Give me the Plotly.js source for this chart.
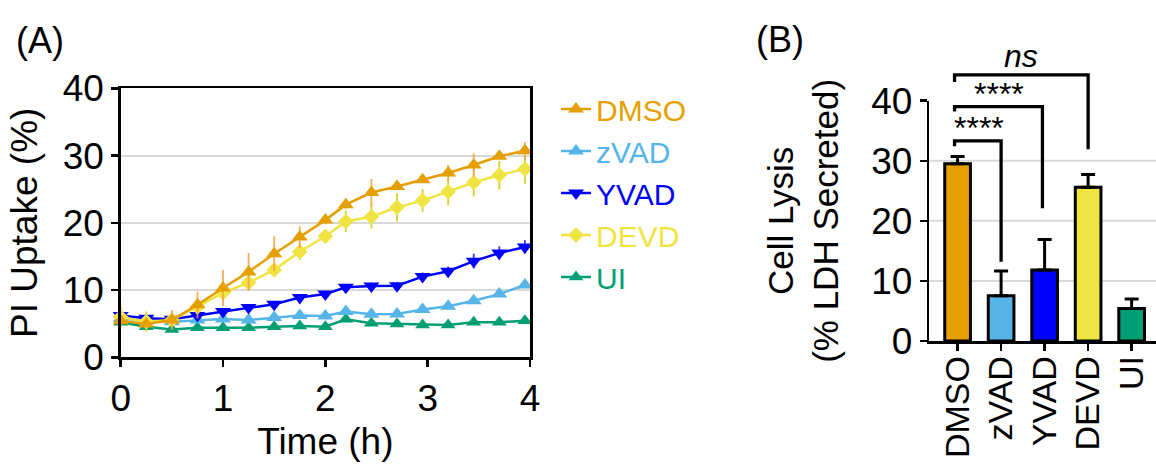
<!DOCTYPE html>
<html><head><meta charset="utf-8">
<script src="https://cdn.plot.ly/plotly-3.0.1.min.js"></script>
<style>html,body{margin:0;padding:0;background:#fff}#chart{width:1156px;height:464px}</style>
</head><body><div id="chart"></div>
<script>
// ---------- Data: panel A (PI uptake time course) ----------
const times = [0, 0.25, 0.5, 0.75, 1, 1.25, 1.5, 1.75, 2, 2.2, 2.45, 2.7, 2.95, 3.2, 3.45, 3.7, 3.95];
const seriesNames = ['DMSO', 'zVAD', 'YVAD', 'DEVD', 'UI'];
const dmsoPI  = [5.45, 4.96, 5.55, 7.8, 10.3, 12.7, 15.4, 17.9, 20.4, 22.7, 24.5, 25.4, 26.4, 27.4, 28.6, 29.9, 30.7];
const dmsoErr = [0.5, 0.4, 1.5, 2.0, 2.7, 2.8, 2.6, 1.6, 0.6, 0.6, 2.0, 0.4, 0.5, 1.2, 1.7, 0.4, 1.3];
const zvadPI  = [5.8, 5.45, 5.3, 5.55, 5.7, 5.55, 5.9, 6.2, 6.15, 6.8, 6.4, 6.45, 7.1, 7.6, 8.4, 9.4, 10.75];
const zvadErr = [0.3, 0.3, 0.3, 0.3, 0.3, 0.3, 0.3, 0.3, 0.3, 0.3, 0.3, 0.3, 0.3, 0.3, 0.3, 0.3, 0.4];
const yvadPI  = [6.2, 5.8, 5.65, 6.2, 6.8, 7.4, 7.9, 8.9, 9.4, 10.4, 10.6, 10.65, 12.0, 12.8, 14.3, 15.5, 16.4];
const yvadErr = [0.4, 0.4, 0.4, 0.5, 0.4, 0.4, 0.4, 0.5, 0.4, 0.5, 0.5, 0.5, 0.6, 0.7, 1.1, 1.0, 1.0];
const devdPI  = [6.0, 5.3, 5.55, 7.5, 9.6, 11.1, 13.0, 15.7, 18.0, 20.2, 20.9, 22.3, 23.3, 24.6, 26.0, 27.1, 28.0];
const devdErr = [1.5, 1.5, 1.0, 0.5, 0.5, 1.0, 0.5, 1.2, 0.8, 1.6, 1.8, 2.1, 1.7, 2.0, 2.1, 2.1, 2.2];
const uiPI    = [5.2, 4.55, 4.15, 4.4, 4.4, 4.4, 4.55, 4.65, 4.55, 5.65, 5.05, 4.95, 4.8, 4.8, 5.2, 5.2, 5.45];
const uiErr   = [0.3, 0.3, 0.3, 0.3, 0.3, 0.3, 0.3, 0.3, 0.3, 0.3, 0.3, 0.3, 0.3, 0.3, 0.3, 0.3, 0.3];
const timeTicks = [0, 1, 2, 3, 4];
const piTicks = [0, 10, 20, 30, 40];

// ---------- Data: panel B (LDH release) ----------
const groups = ['DMSO', 'zVAD', 'YVAD', 'DEVD', 'UI'];
const lysis = [29.5, 7.55, 11.8, 25.6, 5.4];
const lysisErr = [1.2, 4.1, 5.1, 2.1, 1.6];
const lysisTicks = [0, 10, 20, 30, 40];
// significance comparisons
const compFrom   = [0, 0, 0];
const compTo     = [1, 1.95, 3];
const compY      = [33.3, 39.0, 44.3];
const compLeftY  = [32.4, 38.2, 43.1];
const compRightY = [13.2, 22.1, 31.9];
const compLabel  = ['****', '****', 'ns'];

// ---------- Styles ----------
const colors = {DMSO: '#E69F00', zVAD: '#56B4E9', YVAD: '#0000FF', DEVD: '#F0E442', UI: '#009E73'};
const errColors = {DMSO: 'rgba(245,160,60,0.85)', zVAD: 'rgba(86,180,233,0.8)', YVAD: 'rgba(0,0,255,0.8)', DEVD: 'rgba(215,200,20,0.9)', UI: 'rgba(0,158,115,0.8)'};
const symbols = {DMSO: 'triangle-up', zVAD: 'triangle-up', YVAD: 'triangle-down', DEVD: 'diamond', UI: 'triangle-up'};
const sizes = {DMSO: 14, zVAD: 14, YVAD: 14, DEVD: 12, UI: 13};
const FONT = 'Liberation Sans, Arial, Helvetica, sans-serif';
const W = 1156, H = 464;

const seriesY = {DMSO: dmsoPI, zVAD: zvadPI, YVAD: yvadPI, DEVD: devdPI, UI: uiPI};
const seriesE = {DMSO: dmsoErr, zVAD: zvadErr, YVAD: yvadErr, DEVD: devdErr, UI: uiErr};
const drawOrder = ['UI', 'zVAD', 'YVAD', 'DEVD', 'DMSO'];

const traces = [];
drawOrder.forEach(name => {
  traces.push({
    type: 'scatter', mode: 'lines+markers', xaxis: 'x', yaxis: 'y',
    x: times, y: seriesY[name],
    name: '<span style="color:' + colors[name] + '">' + name + '</span>',
    legendrank: seriesNames.indexOf(name) + 1,
    line: {color: colors[name], width: 2.5},
    marker: {symbol: symbols[name], size: sizes[name], color: colors[name]},
    error_y: {type: 'data', array: seriesE[name], color: errColors[name], thickness: 1.8, width: 0},
    cliponaxis: false
  });
});

const barX = groups.map((g, i) => i);
traces.push({
  type: 'bar', xaxis: 'x2', yaxis: 'y2', x: barX, y: lysis, width: 0.59,
  marker: {color: groups.map(g => colors[g]), line: {color: '#000', width: 3}},
  error_y: {type: 'data', symmetric: false, array: lysisErr, arrayminus: lysis.map(() => 0), color: '#000', thickness: 3, width: 7},
  showlegend: false, hoverinfo: 'x+y'
});

const annotations = [];
for (let i = 0; i < compFrom.length; i++) {
  const xl = compFrom[i] - 0.07, xr = compTo[i];
  traces.push({
    type: 'scatter', mode: 'lines', xaxis: 'x2', yaxis: 'y3',
    x: [xl, xl, xr, xr], y: [compLeftY[i], compY[i], compY[i], compRightY[i]],
    line: {color: '#000', width: 3.3}, showlegend: false, hoverinfo: 'skip'
  });
  const isNs = compLabel[i] === 'ns';
  annotations.push({
    xref: 'x2', yref: 'y3', x: (xl + xr) / 2 + (isNs ? 0 : 0.02), y: compY[i],
    text: isNs ? '<i>ns</i>' : compLabel[i], showarrow: false,
    xanchor: 'center', yanchor: 'bottom', yshift: isNs ? -1 : -7,
    font: {family: FONT, size: 32, color: '#000'}
  });
}

annotations.push({xref: 'paper', yref: 'paper', x: 14 / W, y: 1 - 18 / H, xanchor: 'left', yanchor: 'top',
  text: '(A)', showarrow: false, font: {family: FONT, size: 36, color: '#000'}});
annotations.push({xref: 'paper', yref: 'paper', x: 754 / W, y: 1 - 17 / H, xanchor: 'left', yanchor: 'top',
  text: '(B)', showarrow: false, font: {family: FONT, size: 36, color: '#000'}});

const shapes = [10, 20, 30].map(v => ({
  type: 'line', xref: 'x2 domain', yref: 'y2', x0: 0, x1: 1, y0: v, y1: v,
  line: {color: '#d9d9d9', width: 2}, layer: 'below'
}));

const y2d0 = (H - 341) / H, y2d1 = (H - 100.7) / H;
const perUnit = (y2d1 - y2d0) / 40;

const axisFont = {family: FONT, size: 37, color: '#000'};
const layout = {
  width: W, height: H,
  margin: {l: 0, r: 0, t: 0, b: 0},
  paper_bgcolor: '#fff', plot_bgcolor: 'rgba(0,0,0,0)',
  font: {family: FONT, color: '#000'},
  showlegend: true,
  legend: {x: 556 / W, y: 1 - 83 / H, xanchor: 'left', yanchor: 'top',
    font: {family: FONT, size: 30}, bgcolor: 'rgba(0,0,0,0)', traceorder: 'normal', tracegroupgap: 0},
  xaxis: {domain: [120.7 / W, 530 / W], range: [0, 4], tickvals: timeTicks,
    ticks: 'outside', ticklen: 7, tickwidth: 2.5, tickcolor: '#000',
    showline: true, linewidth: 2.5, linecolor: '#000', mirror: true,
    showgrid: false, zeroline: false, tickfont: axisFont,
    title: {text: 'Time (h)', font: axisFont, standoff: 10}, anchor: 'y'},
  yaxis: {domain: [(H - 357.3) / H, (H - 88.3) / H], range: [0, 40], tickvals: piTicks,
    ticks: 'outside', ticklen: 7, tickwidth: 2.5, tickcolor: '#000',
    showline: true, linewidth: 2.5, linecolor: '#000', mirror: true,
    showgrid: true, gridcolor: '#d9d9d9', gridwidth: 2, zeroline: false, tickfont: axisFont,
    title: {text: 'PI Uptake (%)', font: axisFont, standoff: 14}, anchor: 'x'},
  xaxis2: {domain: [929.3 / W, 1], range: [-0.65, 4.56], tickvals: barX, ticktext: groups,
    tickangle: -90, ticks: 'outside', ticklen: 7, tickwidth: 2.5, tickcolor: '#000',
    ticklabelstandoff: -8,
    showline: true, linewidth: 2.5, linecolor: '#000', showgrid: false, zeroline: false,
    tickfont: {family: FONT, size: 34, color: '#000'}, anchor: 'y2'},
  yaxis2: {domain: [y2d0, y2d1], range: [0, 40], tickvals: lysisTicks,
    ticks: 'outside', ticklen: 7, tickwidth: 2.5, tickcolor: '#000',
    showline: true, linewidth: 2.5, linecolor: '#000', showgrid: false, zeroline: false,
    tickfont: axisFont,
    title: {text: 'Cell Lysis<br>(% LDH Secreted)', font: {family: FONT, size: 35, color: '#000'}, standoff: 22},
    anchor: 'x2'},
  yaxis3: {domain: [y2d0, y2d0 + perUnit * 48], range: [0, 48], visible: false, anchor: 'x2', fixedrange: true},
  shapes: shapes,
  annotations: annotations
};

Plotly.newPlot('chart', traces, layout, {displayModeBar: false, staticPlot: true});
</script></body></html>
